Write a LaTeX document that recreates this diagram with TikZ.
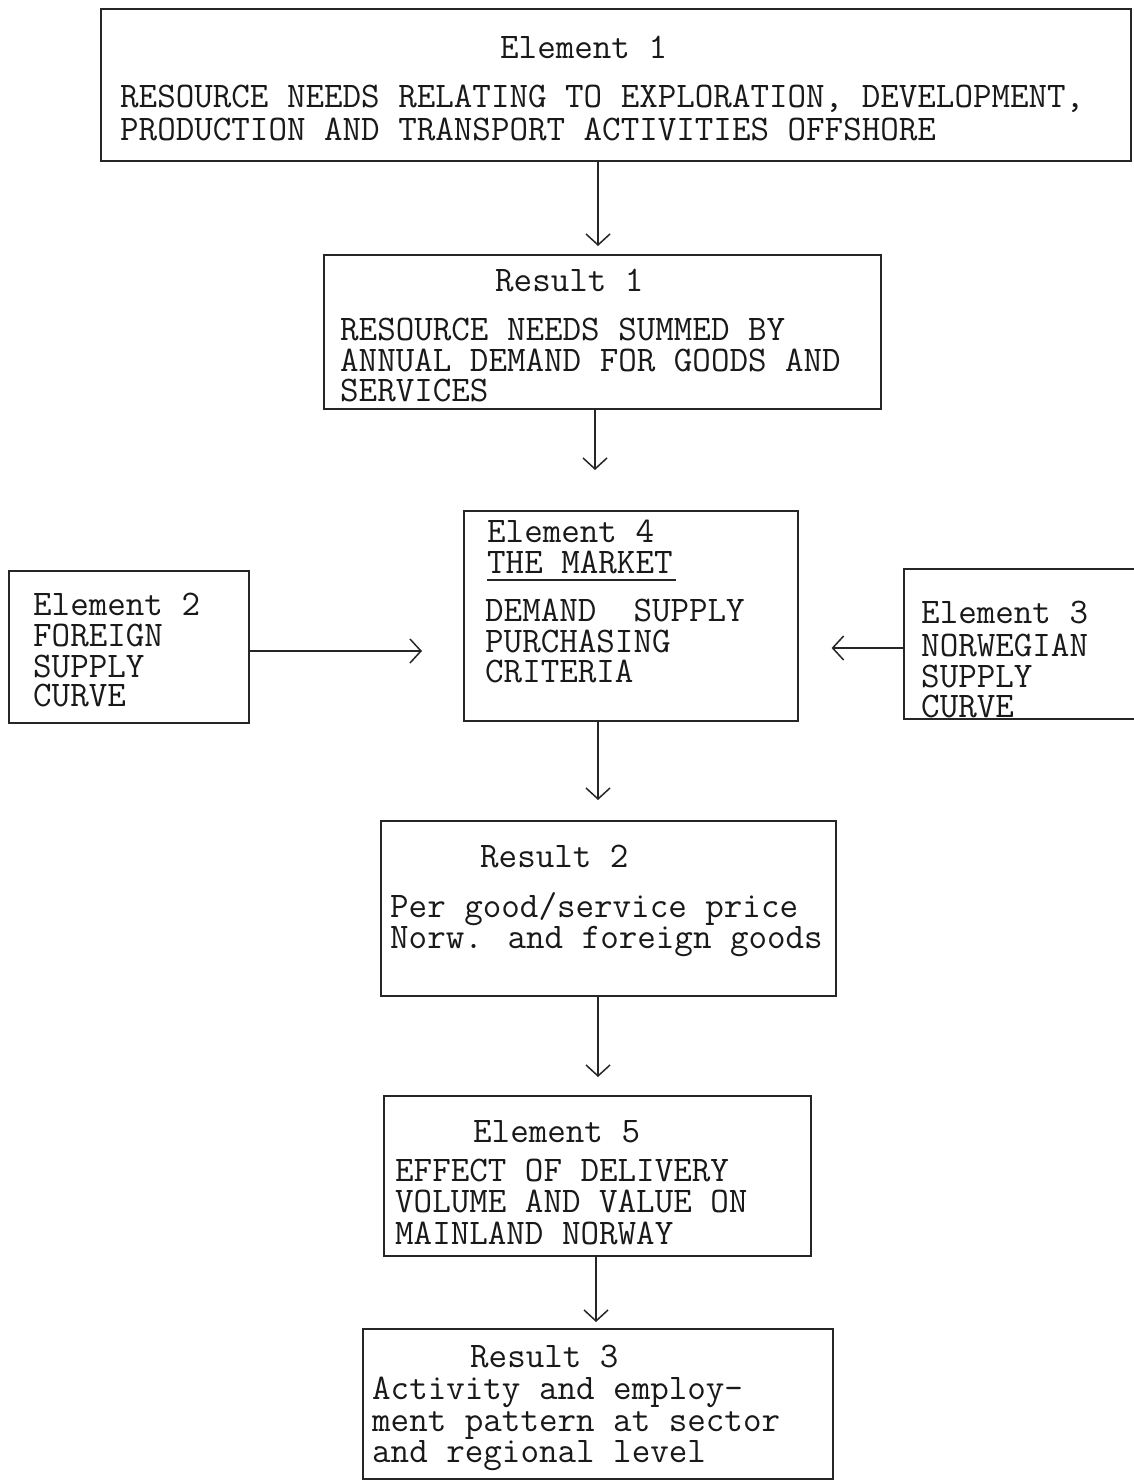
\documentclass[tikz,border=0pt]{standalone}
\usepackage{fontspec}
\usetikzlibrary{arrows.meta}
\begin{document}
\begin{tikzpicture}[x=1pt,y=-1pt,
  box/.style={draw=black!85, line width=1.6pt, rectangle, inner sep=0pt, anchor=north west},
  txt/.style={font=\ttfamily\fontsize{36}{35}\selectfont, inner sep=0pt, text height=22pt, text depth=6pt, anchor=base west, text=black!90},
  arr/.style={draw=black!85, line width=1.5pt, -{Straight Barb[length=11pt,width=24pt,line width=1.5pt]}}]
\useasboundingbox (0,0) rectangle (1134,1480);
\fill[white] (0,0) rectangle (1134,1480);

% boxes
\node[box, minimum width=1030pt, minimum height=152pt] (e1) at (100,8) {};
\node[box, minimum width=557pt, minimum height=154pt] (r1) at (323,254) {};
\node[box, minimum width=334pt, minimum height=210pt] (e4) at (463,510) {};
\node[box, minimum width=240pt, minimum height=152pt] (e2) at (8,570) {};
\node[box, minimum width=260pt, minimum height=150pt] (e3) at (903,568) {};
\node[box, minimum width=455pt, minimum height=175pt] (r2) at (380,820) {};
\node[box, minimum width=427pt, minimum height=160pt] (e5) at (383,1095) {};
\node[box, minimum width=470pt, minimum height=150pt] (r3) at (362,1328) {};

% Element 1
\node[txt] (e1a) at (500,59) {Element 1};
\node[txt] (e1b) at (120,107) {RESOURCE NEEDS RELATING TO EXPLORATION, DEVELOPMENT,};
\node[txt] (e1c) at (120,140) {PRODUCTION AND TRANSPORT ACTIVITIES OFFSHORE};

% Result 1
\node[txt] (r1a) at (495,291) {Result 1};
\node[txt] (r1b) at (340,340) {RESOURCE NEEDS SUMMED BY};
\node[txt] (r1c) at (340,371) {ANNUAL DEMAND FOR GOODS AND};
\node[txt] (r1d) at (340,401) {SERVICES};

% Element 4
\node[txt] (e4a) at (487,542) {Element 4};
\node[txt] (e4b) at (487,573) {THE MARKET};
\draw[line width=1.3pt, black!85] ([yshift=-7pt]e4b.base west) -- ([yshift=-7pt,xshift=3pt]e4b.base east);
\node[txt] (e4c) at (485,621) {DEMAND~~SUPPLY};
\node[txt] (e4d) at (485,652) {PURCHASING};
\node[txt] (e4e) at (485,682) {CRITERIA};

% Element 2
\node[txt] (e2a) at (33,615) {Element 2};
\node[txt] (e2b) at (33,646) {FOREIGN};
\node[txt] (e2c) at (33,677) {SUPPLY};
\node[txt] (e2d) at (33,706) {CURVE};

% Element 3
\node[txt] (e3a) at (921,623) {Element 3};
\node[txt] (e3b) at (921,656) {NORWEGIAN};
\node[txt] (e3c) at (921,687) {SUPPLY};
\node[txt] (e3d) at (921,717) {CURVE};

% Result 2
\node[txt] (r2a) at (480,867) {Result 2};
\node[txt] (r2b) at (390,917) {Per good/service price};
\node[txt] (r2c) at (390,948) {Norw. and foreign goods};

% Element 5
\node[txt] (e5a) at (473,1142) {Element 5};
\node[txt] (e5b) at (395,1181) {EFFECT OF DELIVERY};
\node[txt] (e5c) at (395,1212) {VOLUME AND VALUE ON};
\node[txt] (e5d) at (395,1244) {MAINLAND NORWAY};

% Result 3
\node[txt] (r3a) at (470,1367) {Result 3};
\node[txt] (r3b) at (372,1399) {Activity and employ-};
\node[txt] (r3c) at (372,1431) {ment pattern at sector};
\node[txt] (r3d) at (372,1462) {and regional level};

% connector columns / rows
\coordinate (c1) at (598,0);
\coordinate (c2) at (595,0);
\coordinate (c3) at (598,0);
\coordinate (c4) at (598,0);
\coordinate (c5) at (596,0);
\coordinate (h2) at (0,651);
\coordinate (h3) at (0,648);

\draw[arr, shorten >=8pt] (e1.south -| c1) -- (r1.north -| c1);
\draw[arr, shorten >=40pt] (r1.south -| c2) -- (e4.north -| c2);
\draw[arr, shorten >=41pt] (e2.east |- h2) -- (e4.west |- h2);
\draw[arr, shorten >=33pt] (e3.west |- h3) -- (e4.east |- h3);
\draw[arr, shorten >=20pt] (e4.south -| c3) -- (r2.north -| c3);
\draw[arr, shorten >=18pt] (r2.south -| c4) -- (e5.north -| c4);
\draw[arr, shorten >=6pt] (e5.south -| c5) -- (r3.north -| c5);
\end{tikzpicture}
\end{document}
